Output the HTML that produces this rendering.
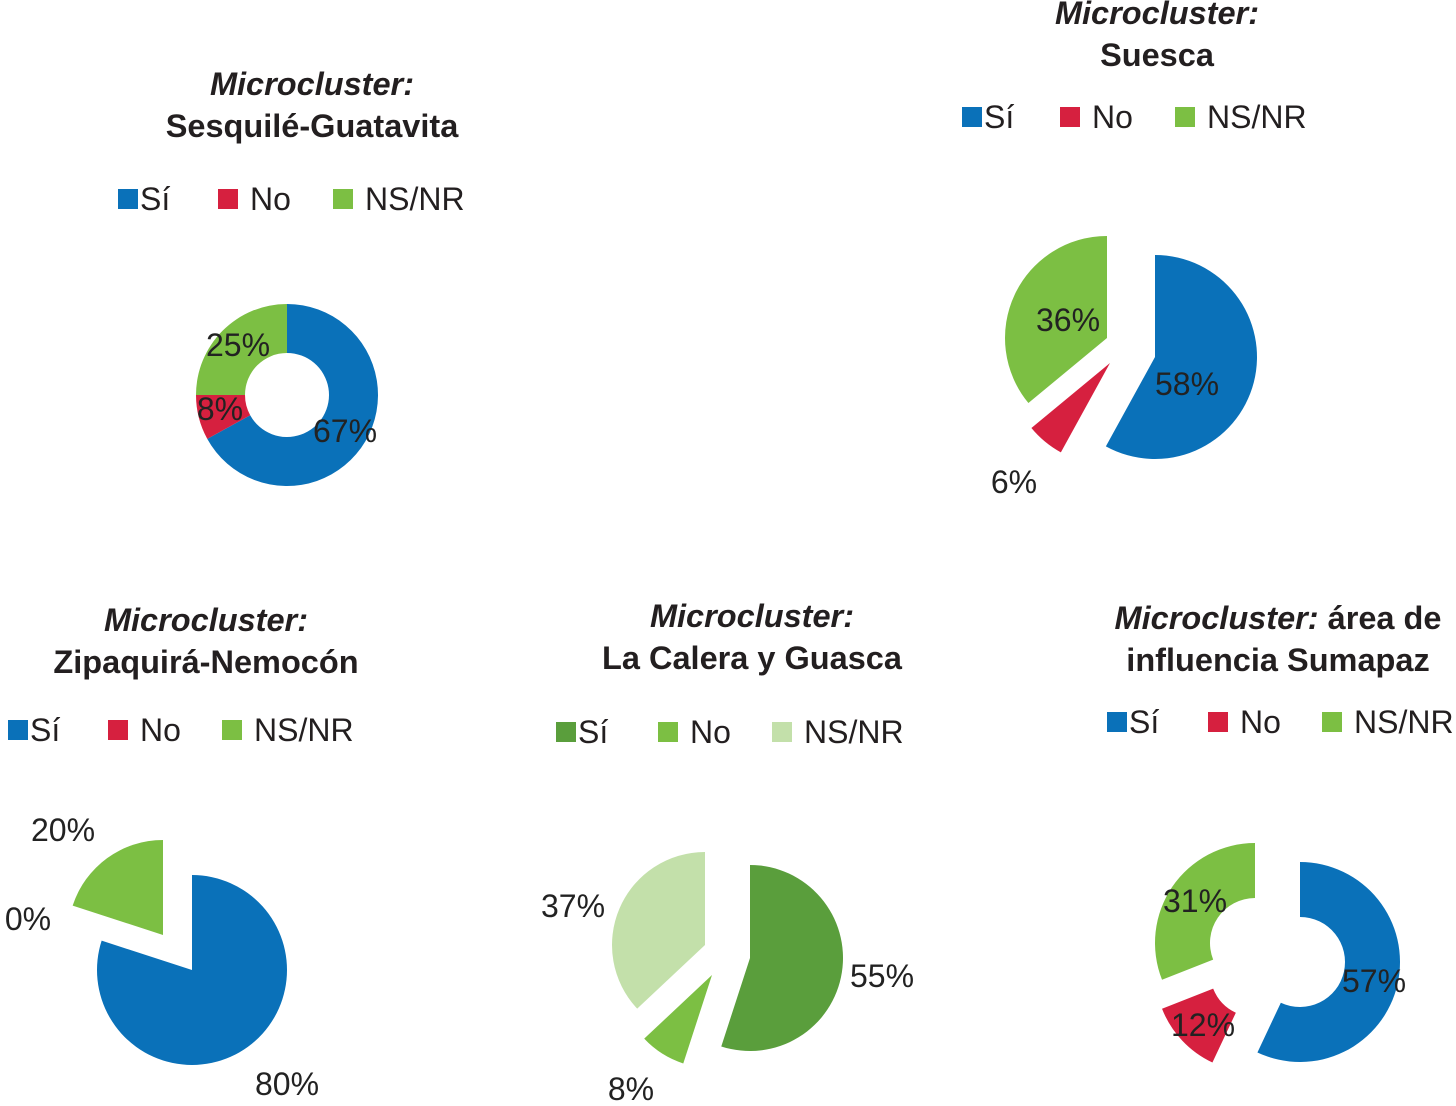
<!DOCTYPE html>
<html><head><meta charset="utf-8"><style>
html,body{margin:0;padding:0;background:#fff;width:1456px;height:1106px;overflow:hidden}
svg{display:block}
.t{font-family:"Liberation Sans",sans-serif;font-weight:bold;font-size:32.5px;fill:#231f20}
.lg{font-family:"Liberation Sans",sans-serif;font-size:32px;fill:#231f20}
.pl{font-family:"Liberation Sans",sans-serif;font-size:32px;fill:#222}
</style></head><body>
<svg id="c" width="1456" height="1106">
<g>
<text class="t" x="312" y="95" text-anchor="middle" font-style="italic">Microcluster:</text>
<text class="t" x="312" y="137" text-anchor="middle">Sesquilé-Guatavita</text></g>
<g>
<text class="t" x="1157" y="24" text-anchor="middle" font-style="italic">Microcluster:</text>
<text class="t" x="1157" y="66" text-anchor="middle">Suesca</text></g>
<g>
<text class="t" x="206" y="631" text-anchor="middle" font-style="italic">Microcluster:</text>
<text class="t" x="206" y="673" text-anchor="middle">Zipaquirá-Nemocón</text></g>
<g>
<text class="t" x="752" y="627" text-anchor="middle" font-style="italic">Microcluster:</text>
<text class="t" x="752" y="669" text-anchor="middle">La Calera y Guasca</text></g>
<g>
<text class="t" x="1278" y="629" text-anchor="middle"><tspan font-style="italic">Microcluster:</tspan> área de</text>
<text class="t" x="1278" y="671" text-anchor="middle">influencia Sumapaz</text></g>
</svg>
<script>
const labels1=["Sí","No","NS/NR"];
const values1=[67,8,25];
const values2=[58,6,36];
const values3=[80,0,20];
const labels4=["Sí","No","NS/NR"];
const values4=[55,8,37];
const values5=[57,12,31];
const svg=document.getElementById('c');
const NS='http://www.w3.org/2000/svg';
const BLUE='#0a71b9',RED='#d6203f',GREEN='#7cbf43';
function ang(frac){return frac*2*Math.PI;}
function pt(cx,cy,r,a){return [cx+r*Math.sin(a),cy-r*Math.cos(a)];}
function arcPath(cx,cy,r0,r1,a0,a1){
  const big=(a1-a0)>Math.PI?1:0;
  const [x0,y0]=pt(cx,cy,r1,a0),[x1,y1]=pt(cx,cy,r1,a1);
  if(r0<=0){return `M${cx},${cy}L${x0},${y0}A${r1},${r1} 0 ${big} 1 ${x1},${y1}Z`;}
  const [x2,y2]=pt(cx,cy,r0,a1),[x3,y3]=pt(cx,cy,r0,a0);
  return `M${x0},${y0}A${r1},${r1} 0 ${big} 1 ${x1},${y1}L${x2},${y2}A${r0},${r0} 0 ${big} 0 ${x3},${y3}Z`;
}
function drawPie(name,values,colors,centers,r,rin,labelPos){
  const g=document.createElementNS(NS,'g');
  
  
  svg.appendChild(g);
  const tot=values.reduce((a,b)=>a+b,0);
  let acc=0;
  values.forEach((v,i)=>{
    const a0=ang(acc/tot),a1=ang((acc+v)/tot);acc+=v;
    if(v>0){
      const p=document.createElementNS(NS,'path');
      p.setAttribute('d',arcPath(centers[i][0],centers[i][1],rin,r,a0,a1));
      p.setAttribute('fill',colors[i]);
      
      
      g.appendChild(p);
    }
    const t=document.createElementNS(NS,'text');
    t.setAttribute('class','pl');
    t.setAttribute('x',labelPos[i][0]);t.setAttribute('y',labelPos[i][1]);
    t.setAttribute('text-anchor','middle');
    t.textContent=v+'%';
    
    
    g.appendChild(t);
  });
}
function drawLegend(name,x,y,labels,colors,gaps){
  const g=document.createElementNS(NS,'g');
  
  
  svg.appendChild(g);
  labels.forEach((l,i)=>{
    const r=document.createElementNS(NS,'rect');
    r.setAttribute('x',x+gaps[i]);r.setAttribute('y',y-21);
    r.setAttribute('width',20);r.setAttribute('height',20);r.setAttribute('fill',colors[i]);
    
    
    g.appendChild(r);
    const t=document.createElementNS(NS,'text');
    t.setAttribute('class','lg');t.setAttribute('x',x+gaps[i]+(i==0?22:32));t.setAttribute('y',y);
    t.textContent=l;
    
    
    g.appendChild(t);
  });
}
const cols=[BLUE,RED,GREEN];
drawLegend('legend-sesquile',118,210,labels1,cols,[0,100,215]);
drawLegend('legend-suesca',962,128,labels1,cols,[0,98,213]);
drawLegend('legend-zipaquira',8,741,labels1,cols,[0,100,214]);
drawLegend('legend-la-calera',556,743,labels4,['#5a9e3c','#7cbf43','#c3e0aa'],[0,102,216]);
drawLegend('legend-sumapaz',1107,733,labels1,cols,[0,101,215]);

drawPie('pie-sesquile',values1,cols,[[287,395],[287,395],[287,395]],91,42,[[345,442],[220,420],[238,356]]);
drawPie('pie-suesca',values2,cols,[[1155,357],[1110,363],[1107,338]],102,0,[[1187,395],[1014,493],[1068,331]]);
drawPie('pie-zipaquira',values3,cols,[[192,970],[170,950],[163,935]],95,0,[[287,1095],[28,930],[63,841]]);
drawPie('pie-la-calera',values4,['#5a9e3c','#7cbf43','#c3e0aa'],[[750,958],[712,975],[705,945]],93,0,[[882,987],[631,1100],[573,917]]);
drawPie('pie-sumapaz',values5,cols,[[1300,962],[1255,972],[1255,943]],100,45,[[1374,992],[1203,1036],[1195,912]]);
</script>
</body></html>
